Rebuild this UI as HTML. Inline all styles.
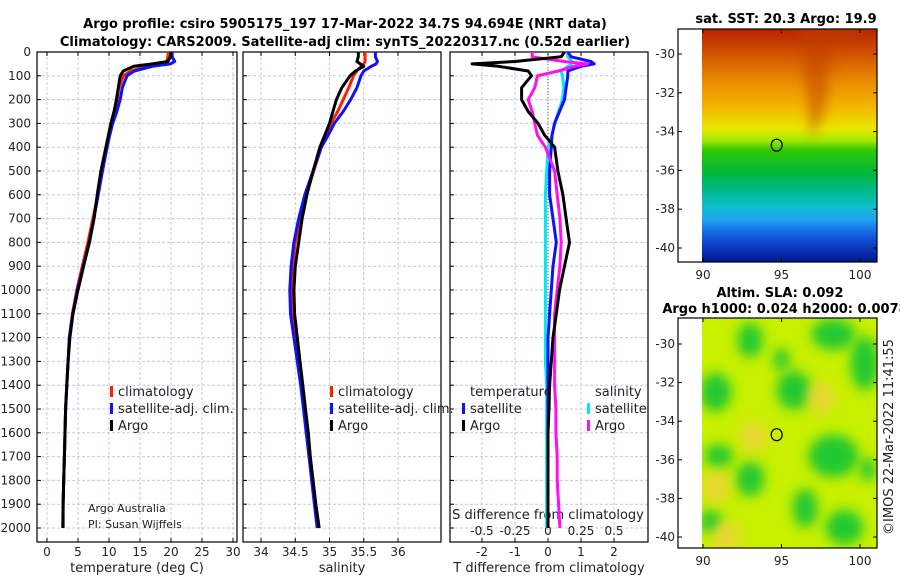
<!DOCTYPE html>
<html><head><meta charset="utf-8"><style>
html,body{margin:0;padding:0;background:#fff;}
svg{display:block;font-family:"DejaVu Sans","Liberation Sans",sans-serif;}
</style></head><body>
<svg id="fig" width="900" height="580" viewBox="0 0 900 580">
<defs>
<linearGradient id="sstGrad" x1="0" y1="0" x2="0" y2="1">
<stop offset="0" stop-color="#b82000"/><stop offset="0.1" stop-color="#d05000"/>
<stop offset="0.22" stop-color="#e88a00"/><stop offset="0.33" stop-color="#f4b400"/>
<stop offset="0.43" stop-color="#e8e800"/><stop offset="0.48" stop-color="#a0e800"/>
<stop offset="0.52" stop-color="#30c800"/><stop offset="0.62" stop-color="#00b840"/>
<stop offset="0.7" stop-color="#00b890"/><stop offset="0.76" stop-color="#10c0c8"/>
<stop offset="0.82" stop-color="#20a0f0"/><stop offset="0.9" stop-color="#1050d8"/>
<stop offset="1" stop-color="#001890"/></linearGradient>
<filter id="blur6" x="-100%" y="-100%" width="300%" height="300%"><feGaussianBlur stdDeviation="6"/></filter>
<clipPath id="clipM1"><rect x="702" y="29" width="175" height="233"/></clipPath>
<clipPath id="clipM2"><rect x="702" y="318" width="175" height="230"/></clipPath>
</defs>
<g id="layer"></g>
</svg>
<script>
const depth=[0,20,40,50,60,80,100,150,200,250,300,350,400,500,600,700,800,900,1000,1100,1200,1300,1400,1500,1600,1700,1800,1900,2000];
const argoT=[20.0,19.9,19.5,17,14,12.3,11.8,11.5,11.2,10.8,10.3,9.9,9.5,8.7,8.1,7.6,6.8,5.9,5.0,4.2,3.7,3.4,3.2,3.0,2.9,2.8,2.7,2.6,2.6];
const climT=[19.6,19.5,19.3,18.5,16,13.5,12.3,11.6,11.3,10.9,10.4,10.0,9.6,8.9,8.2,7.4,6.6,5.7,4.8,4.1,3.6,3.4,3.2,3.0,2.9,2.8,2.7,2.6,2.55];
const satTdiff=[0.6,0.7,1.3,1.4,1.0,0.6,0.6,0.55,0.5,0.35,0.2,0.12,0.1,0.05,0.05,0.15,0.25,0.15,0.1,0.05,0,0,0,0,0,0,0,0,0];
const argoTdiff=[0.5,0.4,-1,-2.3,-1.5,-0.6,-0.5,-0.8,-0.8,-0.6,-0.3,-0.1,0.2,0.3,0.45,0.55,0.65,0.5,0.35,0.25,0.15,0.1,0.05,0.03,0,0,0,0,0];
const argoS=[35.42,35.42,35.40,35.45,35.5,35.38,35.3,35.18,35.1,35.05,35.0,34.93,34.86,34.76,34.67,34.6,34.55,34.5,34.48,34.49,34.53,34.57,34.61,34.65,34.69,34.72,34.76,34.8,34.85];
const climS=[35.52,35.52,35.52,35.5,35.46,35.4,35.35,35.28,35.2,35.12,35.02,34.95,34.88,34.77,34.66,34.57,34.5,34.46,34.44,34.45,34.5,34.55,34.59,34.63,34.67,34.71,34.75,34.79,34.83];
const satSdiff=[0.15,0.15,0.18,0.18,0.15,0.1,0.11,0.12,0.11,0.08,0.05,0.03,0,-0.01,-0.02,-0.02,-0.02,-0.02,-0.02,-0.02,-0.02,-0.02,-0.01,-0.01,-0.01,-0.01,-0.01,-0.01,-0.01];
const argoSdiff=[-0.12,-0.12,0.12,0.3,0.2,0.08,-0.08,-0.1,-0.15,-0.12,-0.1,-0.08,-0.02,0.05,0.07,0.09,0.1,0.09,0.07,0.05,0.05,0.05,0.05,0.06,0.06,0.07,0.07,0.08,0.09];
const depthTicks=[0,100,200,300,400,500,600,700,800,900,1000,1100,1200,1300,1400,1500,1600,1700,1800,1900,2000];
const tTicks=[0,5,10,15,20,25,30];
const sTicks=[34,34.5,35,35.5,36];
const sTickLabels=["34","34.5","35","35.5","36"];
const dTTicks=[-2,-1,0,1,2];
const dSTicks=[-0.5,-0.25,0,0.25,0.5];
const dSTickLabels=["-0.5","-0.25","0","0.25","0.5"];
const mapLonTicks=[90,95,100];
const mapLatTicks=[-30,-32,-34,-36,-38,-40];
const argoLon=94.694, argoLat=-34.7;
const slaBlobs=[[90.8,-32.5,1.0,1.0],[93,-29.8,0.8,0.9],[95.8,-32.4,1.1,1.0],[98.3,-29.5,1.4,0.8],[100.3,-31,0.9,1.4],[98.3,-35.8,1.6,1.1],[91,-35.8,0.9,0.6],[93,-37,0.9,0.9],[90.5,-39.2,0.7,0.6],[96.5,-38.5,0.8,1.0],[99,-39.5,1.2,0.9],[95,-30.8,0.5,0.6],[100.5,-36.5,0.5,0.6]];

const NS='http://www.w3.org/2000/svg';
const L=document.getElementById('layer');
function el(t,a,p){const e=document.createElementNS(NS,t);for(const k in a)e.setAttribute(k,a[k]);(p||L).appendChild(e);return e;}
const yTop=52,yBot=542;
const yD=d=>52+d*0.238;
const x1=v=>47+v*6.2;
const x2=v=>261+(v-34)*68.5;
const x3=v=>548+v*33;
const x3s=v=>548+v*132;
function panel(x0,x1e,xs,xfun,name){
  const g=el('g',{});
  
  
  depthTicks.forEach(d=>{const ln=el('line',{x1:x0,x2:x1e,y1:yD(d),y2:yD(d),stroke:'#c4c8e4','stroke-dasharray':'3,2','stroke-width':1},g);
    
    el('line',{x1:x0,x2:x0+4,y1:yD(d),y2:yD(d),stroke:'#000'},g);});
  xs.forEach(v=>{const ln=el('line',{x1:xfun(v),x2:xfun(v),y1:yTop,y2:yBot,stroke:'#c4c8e4','stroke-dasharray':'3,2'},g);
    
    el('line',{x1:xfun(v),x2:xfun(v),y1:yBot,y2:yBot-4,stroke:'#000'},g);
    el('line',{x1:xfun(v),x2:xfun(v),y1:yTop,y2:yTop+4,stroke:'#000'},g);});
  const r=el('rect',{x:x0,y:yTop,width:x1e-x0,height:yBot-yTop,fill:'none',stroke:'#000','stroke-width':1.2},g);
  
  return g;
}
function line(vals,xf,col,w,name){
  const pts=vals.map((v,i)=>xf(v).toFixed(1)+','+yD(depth[i]).toFixed(1)).join(' ');
  const p=el('polyline',{points:pts,fill:'none',stroke:col,'stroke-width':w,'stroke-linejoin':'round'});
  
  
}
function text(x,y,s,opts,name){
  const t=el('text',Object.assign({x:x,y:y,'font-size':13,fill:'#222'},opts||{}));
  t.textContent=s;
  
  
  return t;
}
// titles
text(345,28,'Argo profile: csiro 5905175_197 17-Mar-2022 34.7S 94.694E (NRT data)',{'text-anchor':'middle','font-weight':'bold','font-size':13,fill:'#000'},'title-line-1');
text(345,46,'Climatology: CARS2009. Satellite-adj clim: synTS_20220317.nc (0.52d earlier)',{'text-anchor':'middle','font-weight':'bold','font-size':13,fill:'#000'},'title-line-2');
panel(37,237,tTicks,x1,'temperature-panel');
panel(243,441,sTicks,x2,'salinity-panel');
panel(450,648,dTTicks,x3,'difference-panel');
depthTicks.forEach(d=>text(31,yD(d)+4,String(d),{'text-anchor':'end','font-size':12},'depth-tick-label'));
tTicks.forEach(v=>text(x1(v),556,String(v),{'text-anchor':'middle','font-size':12},'temperature-tick-label'));
sTicks.forEach((v,i)=>text(x2(v),556,sTickLabels[i],{'text-anchor':'middle','font-size':12},'salinity-tick-label'));
dTTicks.forEach(v=>text(x3(v),556,String(v),{'text-anchor':'middle','font-size':12},'t-diff-tick-label'));
dSTicks.forEach((v,i)=>text(x3s(v),535,dSTickLabels[i],{'text-anchor':'middle','font-size':12},'s-diff-tick-label'));
text(137,572,'temperature (deg C)',{'text-anchor':'middle'},'temperature-axis-title');
text(342,572,'salinity',{'text-anchor':'middle'},'salinity-axis-title');
text(549,572,'T difference from climatology',{'text-anchor':'middle'},'t-diff-axis-title');
text(548,519,'S difference from climatology',{'text-anchor':'middle'},'s-diff-axis-title');
const z=el('line',{x1:x3(0),x2:x3(0),y1:yD(0),y2:yD(2000),stroke:'#555','stroke-dasharray':'1,2'});

line(climT,x1,'#ff2000',3,'climatology-temperature-line');
line(climT.map((v,i)=>v+satTdiff[i]),x1,'#1010ff',3,'satellite-clim-temperature-line');
line(argoT,x1,'#000',3,'argo-temperature-line');
line(climS,x2,'#ff2000',3,'climatology-salinity-line');
line(climS.map((v,i)=>v+satSdiff[i]),x2,'#1010ff',3,'satellite-clim-salinity-line');
line(argoS,x2,'#000',3,'argo-salinity-line');
line(satSdiff,x3s,'#00e8f0',3,'satellite-salinity-diff-line');
line(satTdiff,x3,'#1010ff',3,'satellite-temperature-diff-line');
line(argoSdiff,x3s,'#ff10f0',3,'argo-salinity-diff-line');
line(argoTdiff,x3,'#000',3,'argo-temperature-diff-line');
function leg(x,y,col,label,name){
  const m=el('rect',{x:x,y:y-10,width:3,height:11,fill:col});
  
  text(x+8,y,label,{},name);
}
leg(110,396,'#ff2000','climatology','legend-climatology');
leg(110,413,'#1010ff','satellite-adj. clim.','legend-satellite-clim');
leg(110,430,'#000','Argo','legend-argo');
leg(330,396,'#ff2000','climatology','legend-climatology-s');
leg(330,413,'#1010ff','satellite-adj. clim.','legend-satellite-clim-s');
leg(330,430,'#000','Argo','legend-argo-s');
text(470,396,'temperature',{},'legend-temperature-heading');
text(595,396,'salinity',{},'legend-salinity-heading');
leg(462,413,'#1010ff','satellite','legend-t-satellite');
leg(462,430,'#000','Argo','legend-t-argo');
leg(587,413,'#00e8f0','satellite','legend-s-satellite');
leg(587,430,'#ff10f0','Argo','legend-s-argo');
text(88,512,'Argo Australia',{'font-size':11},'credit-argo-australia');
text(88,528,'PI: Susan Wijffels',{'font-size':11},'credit-pi');
const mx=v=>703+(v-90)*15.7;
const my1=v=>54+(-30-v)*19.4;
const my2=v=>344+(-30-v)*19.3;
const g1=el('g',{'clip-path':'url(#clipM1)'});

el('rect',{x:702,y:29,width:175,height:233,fill:'url(#sstGrad)'},g1);
el('path',{d:'M770 29 L800 29 L805 80 L812 140 L825 110 L832 50 L877 29 L877 10 Z',fill:'#c04000',opacity:0.55,filter:'url(#blur6)'},g1);
const g2=el('g',{'clip-path':'url(#clipM2)'});

el('rect',{x:702,y:318,width:175,height:230,fill:'#c8f000'},g2);
slaBlobs.forEach(b=>{const e=el('ellipse',{cx:mx(b[0]),cy:my2(b[1]),rx:b[2]*15.7,ry:b[3]*19.3,fill:'#20c830',filter:'url(#blur6)'},g2);
  });
[[mx(93.2),my2(-34.8)],[mx(97.5),my2(-32.8)],[mx(90.8),my2(-37.4)],[mx(91.5),my2(-40)]].forEach(p=>{const e=el('ellipse',{cx:p[0],cy:p[1],rx:14,ry:16,fill:'#f0d040',opacity:0.8,filter:'url(#blur6)'},g2);
  });
function mapFrame(top,bot,yf,name){
  const r=el('rect',{x:678,y:top,width:199,height:bot-top,fill:'none',stroke:'#000','stroke-width':1.2});
  
  mapLonTicks.forEach(v=>{el('line',{x1:mx(v),x2:mx(v),y1:bot,y2:bot-4,stroke:'#000'});el('line',{x1:mx(v),x2:mx(v),y1:top,y2:top+4,stroke:'#000'});
    text(mx(v),bot+17,String(v),{'text-anchor':'middle','font-size':12},name+'-lon-label');});
  mapLatTicks.forEach(v=>{el('line',{x1:678,x2:682,y1:yf(v),y2:yf(v),stroke:'#000'});el('line',{x1:877,x2:873,y1:yf(v),y2:yf(v),stroke:'#000'});
    text(675,yf(v)+4,String(v),{'text-anchor':'end','font-size':12},name+'-lat-label');});
  const c=el('ellipse',{cx:mx(argoLon),cy:yf(argoLat),rx:5.5,ry:6,fill:'none',stroke:'#000','stroke-width':1.2});
  
}
mapFrame(29,262,my1,'sst-map');
mapFrame(318,548,my2,'sla-map');
text(786,23,'sat. SST: 20.3 Argo: 19.9',{'text-anchor':'middle','font-weight':'bold','font-size':13,fill:'#000'},'sst-map-title');
text(780,297,'Altim. SLA: 0.092',{'text-anchor':'middle','font-weight':'bold','font-size':13,fill:'#000'},'sla-map-title-1');
text(785,313,'Argo h1000: 0.024 h2000: 0.0078',{'text-anchor':'middle','font-weight':'bold','font-size':13,fill:'#000'},'sla-map-title-2');
text(0,0,'©IMOS 22-Mar-2022 11:41:55',{'text-anchor':'middle','font-size':13,transform:'translate(893,437) rotate(-90)'},'imos-timestamp');
</script>
</body></html>
